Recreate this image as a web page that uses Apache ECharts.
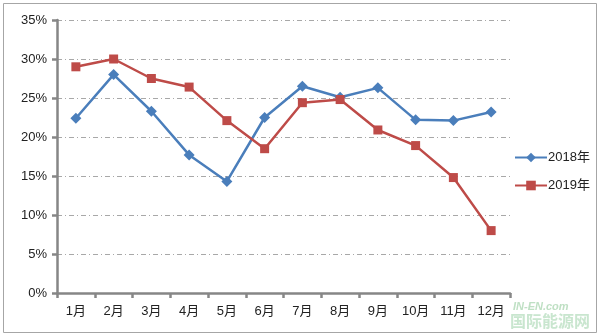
<!DOCTYPE html>
<html>
<head>
<meta charset="utf-8">
<script src="https://cdn.jsdelivr.net/npm/echarts@6/dist/echarts.min.js"></script>
<style>
html,body{margin:0;padding:0;background:#fff;}
#c{width:600px;height:336px;}
</style>
</head>
<body>
<div id="c"></div>
<script>
const categories = ['1月','2月','3月','4月','5月','6月','7月','8月','9月','10月','11月','12月'];
const series2018 = [22.4, 28.0, 23.3, 17.7, 14.3, 22.5, 26.5, 25.1, 26.3, 22.2, 22.1, 23.2];
const series2019 = [29.0, 30.0, 27.5, 26.4, 22.1, 18.5, 24.4, 24.8, 20.9, 18.9, 14.8, 8.0];
const yTicks = [0, 5, 10, 15, 20, 25, 30, 35];

const chart = echarts.init(document.getElementById('c'), null, {renderer: 'canvas'});
const font = '"Liberation Sans", "Noto Sans CJK SC", sans-serif';
chart.setOption({
  animation: false,
  backgroundColor: '#fff',
  textStyle: {fontFamily: font},
  graphic: [
    {type: 'rect', shape: {x: 3.5, y: 3.5, width: 593, height: 329},
     style: {fill: 'none', stroke: '#a6a6a6', lineWidth: 1}, z: -1},
    {type: 'text', left: 513, top: 301,
     style: {text: 'IN-EN.com', fill: '#bfe0c4', font: 'italic bold 11px "Liberation Sans"'}},
    {type: 'text', left: 510, top: 313,
     style: {text: '国际能源网', fill: '#c9e6cf', font: 'bold 16px "Noto Sans CJK SC"'}}
  ],
  grid: {left: 57, right: 90, top: 20, bottom: 43, containLabel: false},
  legend: {
    orient: 'vertical',
    left: 509,
    top: 146,
    itemGap: 15,
    itemWidth: 32,
    itemHeight: 12,
    textStyle: {fontSize: 13, color: '#222', fontFamily: font, padding: [0, 0, 0, -4]},
    data: ['2018年', '2019年']
  },
  xAxis: {
    type: 'category',
    data: categories,
    boundaryGap: true,
    axisLine: {lineStyle: {color: '#868686', width: 2.5}},
    axisTick: {show: true, length: 5, inside: false, lineStyle: {color: '#868686', width: 2.5}},
    axisLabel: {fontSize: 13, color: '#222', margin: 12, interval: 0, fontFamily: font},
    splitLine: {show: false}
  },
  yAxis: {
    type: 'value',
    min: 0, max: 35, interval: 5,
    axisLine: {show: true, lineStyle: {color: '#868686', width: 2.5}},
    axisTick: {show: true, length: 5, lineStyle: {color: '#868686', width: 2.5}},
    axisLabel: {fontSize: 13, color: '#222', margin: 10, fontFamily: font,
      formatter: v => yTicks.includes(v) ? v + '%' : ''},
    splitLine: {show: true, lineStyle: {color: '#a8a8a8', width: 1, type: [5, 3, 1, 3]}}
  },
  series: [
    {
      name: '2018年', type: 'line', data: series2018,
      symbol: 'diamond', symbolSize: 11,
      itemStyle: {color: '#4a7ebb'},
      lineStyle: {color: '#4a7ebb', width: 2.5}
    },
    {
      name: '2019年', type: 'line', data: series2019,
      symbol: 'rect', symbolSize: 9,
      itemStyle: {color: '#be4b48'},
      lineStyle: {color: '#be4b48', width: 2.5}
    }
  ]
});
</script>
</body>
</html>
